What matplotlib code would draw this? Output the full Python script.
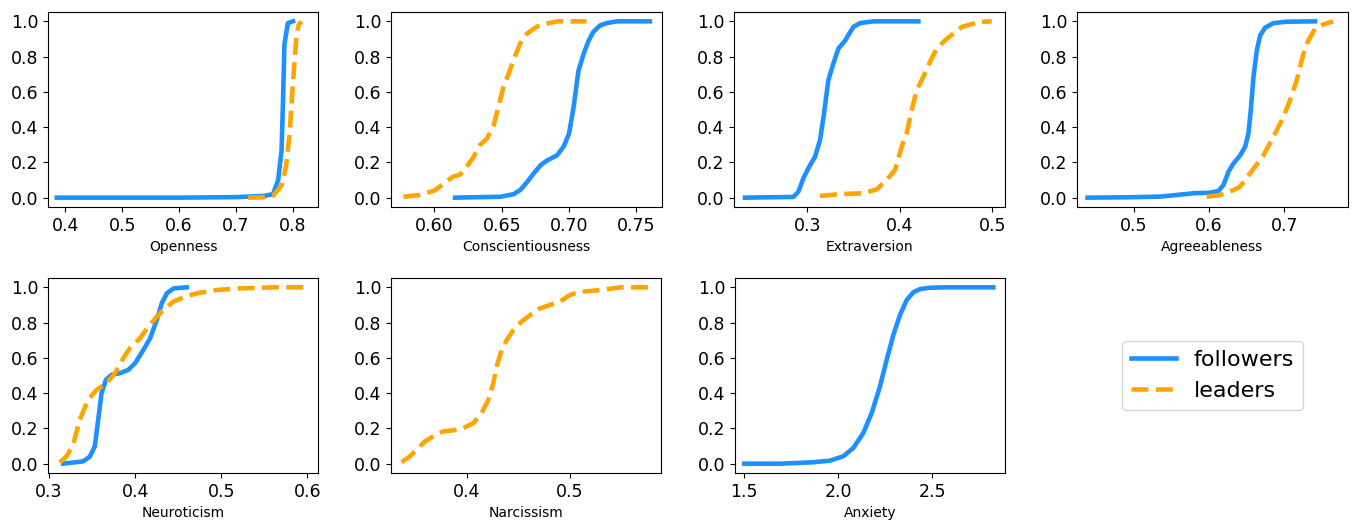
import matplotlib.pyplot as plt

BLUE = '#1E90FF'
ORANGE = '#FFA500'

# x values at read-off cumulative fractions, per trait
openness_fol_x = [0.385, 0.60, 0.70, 0.75, 0.765, 0.774, 0.78, 0.7825, 0.785, 0.791, 0.80]
openness_fol_y = [0.0, 0.0, 0.003, 0.01, 0.02, 0.10, 0.27, 0.55, 0.87, 0.99, 1.0]
openness_lea_x = [0.721, 0.747, 0.765, 0.78, 0.788, 0.794, 0.80, 0.806, 0.810, 0.815]
openness_lea_y = [0.0, 0.002, 0.01, 0.07, 0.18, 0.36, 0.65, 0.91, 0.98, 1.0]

consc_fol_x = [0.6154, 0.649, 0.659, 0.664, 0.669, 0.674, 0.679, 0.6835, 0.691, 0.696,
               0.700, 0.7034, 0.706, 0.707, 0.711, 0.7145, 0.718, 0.723, 0.728, 0.7356, 0.760]
consc_fol_y = [0.0, 0.005, 0.02, 0.045, 0.09, 0.14, 0.185, 0.21, 0.24, 0.29,
               0.364, 0.515, 0.666, 0.72, 0.82, 0.89, 0.94, 0.977, 0.99, 1.0, 1.0]
consc_lea_x = [0.577, 0.589, 0.600, 0.607, 0.614, 0.619, 0.624, 0.629, 0.634, 0.639, 0.644,
               0.6476, 0.6513, 0.655, 0.6587, 0.6637, 0.6687, 0.676, 0.6835, 0.691, 0.713]
consc_lea_y = [0.005, 0.015, 0.04, 0.08, 0.12, 0.13, 0.175, 0.23, 0.30, 0.335, 0.41,
               0.515, 0.628, 0.70, 0.78, 0.874, 0.93, 0.97, 0.987, 1.0, 1.0]

extra_fol_x = [0.2326, 0.2849, 0.2903, 0.2957, 0.301, 0.3083, 0.3137, 0.318, 0.3227, 0.3281,
               0.3335, 0.3407, 0.3497, 0.357, 0.3714, 0.420]
extra_fol_y = [0.0, 0.004, 0.034, 0.11, 0.166, 0.232, 0.326, 0.477, 0.666, 0.76,
               0.845, 0.89, 0.968, 0.99, 1.0, 1.0]
extra_lea_x = [0.3137, 0.3353, 0.3605, 0.375, 0.3858, 0.3948, 0.402, 0.4074, 0.4128, 0.4182,
               0.4254, 0.4326, 0.4398, 0.4488, 0.4578, 0.4668, 0.4795, 0.4885, 0.4993]
extra_lea_y = [0.01, 0.02, 0.025, 0.047, 0.10, 0.157, 0.29, 0.364, 0.496, 0.61,
               0.685, 0.77, 0.845, 0.892, 0.93, 0.968, 0.987, 0.997, 1.0]

agree_fol_x = [0.439, 0.491, 0.5353, 0.557, 0.5795, 0.6015, 0.6126, 0.6192, 0.6258, 0.6325,
               0.6413, 0.648, 0.6523, 0.6554, 0.659, 0.6634, 0.6678, 0.6744, 0.6854, 0.703, 0.7406]
agree_fol_y = [0.0, 0.002, 0.006, 0.015, 0.025, 0.028, 0.038, 0.072, 0.147, 0.194,
               0.24, 0.289, 0.364, 0.496, 0.685, 0.836, 0.92, 0.964, 0.99, 0.998, 1.0]
agree_lea_x = [0.597, 0.6148, 0.628, 0.6413, 0.6545, 0.6722, 0.6854, 0.6987, 0.7075, 0.7163,
               0.7252, 0.7318, 0.7406, 0.7517, 0.7645]
agree_lea_y = [0.005, 0.015, 0.034, 0.062, 0.138, 0.24, 0.345, 0.458, 0.553, 0.666,
               0.817, 0.892, 0.958, 0.983, 1.0]

neuro_fol_x = [0.3163, 0.3396, 0.3474, 0.3532, 0.3571, 0.361, 0.366, 0.3727, 0.3824, 0.3921,
               0.400, 0.4096, 0.4174, 0.4252, 0.431, 0.4368, 0.4446, 0.460]
neuro_fol_y = [0.0, 0.013, 0.04, 0.098, 0.249, 0.40, 0.475, 0.504, 0.513, 0.532,
               0.57, 0.645, 0.711, 0.815, 0.91, 0.966, 0.994, 1.0]
neuro_lea_x = [0.3124, 0.3202, 0.328, 0.3357, 0.3455, 0.3552, 0.3668, 0.3766, 0.3863, 0.394,
               0.4057, 0.4154, 0.4252, 0.4349, 0.4446, 0.4601, 0.4757, 0.4951, 0.5223, 0.5612, 0.5981]
neuro_lea_y = [0.008, 0.04, 0.107, 0.249, 0.362, 0.419, 0.456, 0.513, 0.598, 0.655,
               0.711, 0.777, 0.834, 0.881, 0.919, 0.951, 0.97, 0.985, 0.994, 1.0, 1.0]

narc_lea_x = [0.3371, 0.3452, 0.3532, 0.3597, 0.3677, 0.3774, 0.3871, 0.3968, 0.4065, 0.4145,
              0.421, 0.4258, 0.429, 0.4339, 0.4387, 0.4452, 0.4532, 0.4613, 0.471, 0.4806,
              0.4903, 0.500, 0.5097, 0.5226, 0.5355, 0.5484, 0.5758]
narc_lea_y = [0.008, 0.042, 0.089, 0.126, 0.155, 0.183, 0.189, 0.202, 0.23, 0.287,
              0.362, 0.457, 0.551, 0.645, 0.70, 0.758, 0.806, 0.842, 0.881, 0.90,
              0.919, 0.957, 0.975, 0.981, 0.989, 1.0, 1.0]

anx_fol_x = [1.50, 1.6897, 1.867, 1.9557, 2.0266, 2.0798, 2.133, 2.1773, 2.2216, 2.2571,
             2.2926, 2.328, 2.3635, 2.399, 2.4344, 2.4876, 2.5762, 2.8245]
anx_fol_y = [0.0, 0.0, 0.008, 0.017, 0.042, 0.089, 0.174, 0.287, 0.438, 0.589,
             0.73, 0.843, 0.928, 0.972, 0.99, 0.998, 1.0, 1.0]

panels = [
    ('Openness', (openness_fol_x, openness_fol_y), (openness_lea_x, openness_lea_y),
     (0.3695, 0.844), [0.4, 0.5, 0.6, 0.7, 0.8], '{:.1f}'),
    ('Conscientiousness', (consc_fol_x, consc_fol_y), (consc_lea_x, consc_lea_y),
     (0.5678, 0.769), [0.60, 0.65, 0.70, 0.75], '{:.2f}'),
    ('Extraversion', (extra_fol_x, extra_fol_y), (extra_lea_x, extra_lea_y),
     (0.2207, 0.5137), [0.3, 0.4, 0.5], '{:.1f}'),
    ('Agreeableness', (agree_fol_x, agree_fol_y), (agree_lea_x, agree_lea_y),
     (0.425, 0.7843), [0.5, 0.6, 0.7], '{:.1f}'),
    ('Neuroticism', (neuro_fol_x, neuro_fol_y), (neuro_lea_x, neuro_lea_y),
     (0.2988, 0.6125), [0.3, 0.4, 0.5, 0.6], '{:.1f}'),
    ('Narcissism', None, (narc_lea_x, narc_lea_y),
     (0.3268, 0.588), [0.4, 0.5], '{:.1f}'),
    ('Anxiety', (anx_fol_x, anx_fol_y), None,
     (1.4504, 2.8865), [1.5, 2.0, 2.5], '{:.1f}'),
]

W, H = 1352, 527
fig = plt.figure(figsize=(W / 100, H / 100), dpi=100)

# pixel boxes (left, top, right, bottom)
boxes = [(48, 12, 318, 207), (391, 12, 662, 207), (734, 12, 1005, 207), (1077, 12, 1348, 207),
         (48, 278, 318, 473), (391, 278, 661, 473), (735, 278, 1005, 473), (1077, 278, 1348, 473)]

def px_axes(b):
    l, t, r, bt = b
    return fig.add_axes([l / W, 1 - bt / H, (r - l) / W, (bt - t) / H])

handles = {}
for i, (name, fol, lea, xlim, xt, fmt) in enumerate(panels):
    ax = px_axes(boxes[i])
    if fol is not None:
        h, = ax.plot(fol[0], fol[1], color=BLUE, lw=3.3, label='followers')
        handles['followers'] = h
    if lea is not None:
        h, = ax.plot(lea[0], lea[1], color=ORANGE, lw=3.3, ls='--', label='leaders')
        handles['leaders'] = h
    ax.set_xlim(*xlim)
    ax.set_ylim(-0.053, 1.053)
    ax.set_xticks(xt)
    ax.set_xticklabels([fmt.format(v) for v in xt])
    ax.set_yticks([0.0, 0.2, 0.4, 0.6, 0.8, 1.0])
    ax.set_yticklabels(['0.0', '0.2', '0.4', '0.6', '0.8', '1.0'])
    ax.tick_params(labelsize=12.5)
    ax.set_xlabel(name, fontsize=10)

lax = px_axes(boxes[7])
lax.axis('off')
lax.legend([handles['followers'], handles['leaders']], ['followers', 'leaders'],
           loc='center', fontsize=16, bbox_to_anchor=(0.5, 0.5))

fig.savefig('out.png', dpi=100)
